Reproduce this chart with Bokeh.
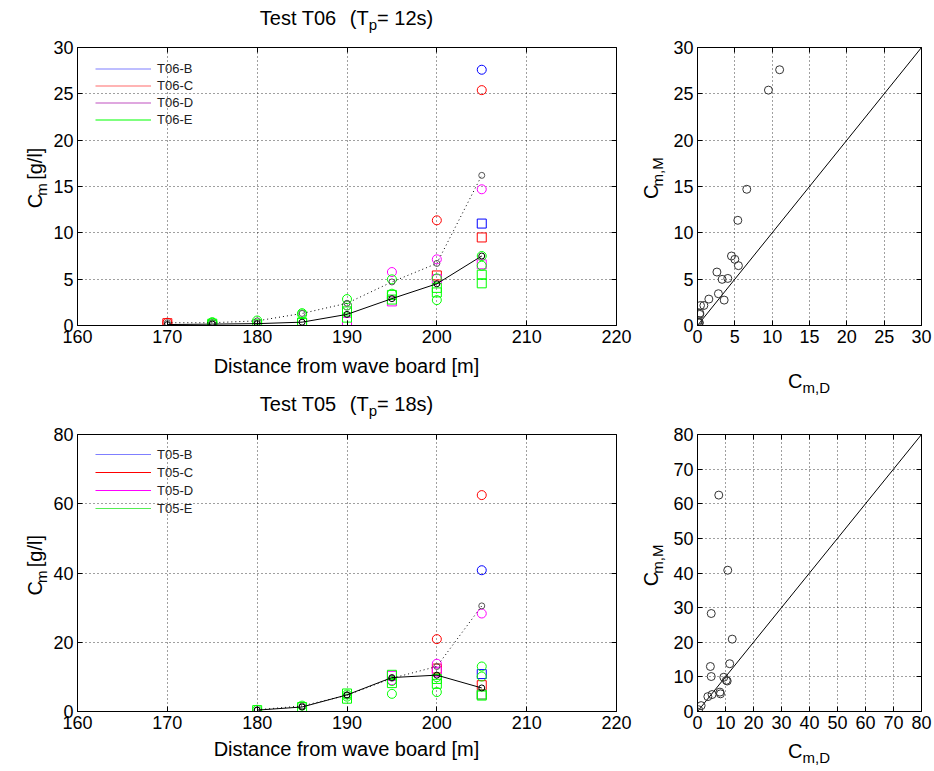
import numpy as np
from bokeh.plotting import figure
from bokeh.layouts import column, row
from bokeh.models import Label, Legend, LegendItem, FixedTicker, LinearAxis, Range1d
from bokeh.embed import file_html
from bokeh.resources import INLINE

FONT = "Liberation Sans"

# ---------------- data: Test T06 ----------------
t06_dist = [170, 175, 180, 185, 190, 195, 200, 205]
t06_mean_M = [0.3, 0.3, 0.5, 1.3, 2.4, 4.7, 6.7, 16.2]
t06_mean_D = [0.1, 0.15, 0.2, 0.36, 1.2, 2.9, 4.5, 7.5]

t06_B_dist = [205]
t06_B_D = [11.0]
t06_B_M = [27.6]
t06_C_dist = [170, 200, 205]
t06_C_D = [0.25, 5.4, 9.5]
t06_C_M = [0.3, 11.35, 25.4]
t06_D_dist = [190, 195, 200, 205]
t06_D_D = [0.4, 2.6, 5.0, 6.6]
t06_D_M = [2.16, 5.77, 7.14, 14.7]
t06_E_dist = [175, 175, 180, 185, 185, 190, 190, 195, 195, 200, 200, 205, 205]
t06_E_D = [0.2, 0.04, 0.13, 0.31, 0.3, 1.52, 0.85, 3.3, 2.8, 4.06, 3.57, 5.48, 4.55]
t06_E_M = [0.3, 0.36, 0.54, 1.33, 1.2, 2.85, 2.16, 4.98, 3.43, 5.08, 2.74, 6.46, 7.5]

# ---------------- data: Test T05 ----------------
t05_dist = [180, 185, 190, 195, 200, 205]
t05_mean_M = [0.5, 1.6, 4.7, 9.6, 13.0, 30.5]
t05_mean_D = [0.4, 1.3, 4.8, 9.8, 10.5, 6.8]

t05_B_dist = [205]
t05_B_D = [10.8]
t05_B_M = [40.8]
t05_C_dist = [200, 205]
t05_C_D = [12.4, 7.6]
t05_C_M = [20.9, 62.5]
t05_D_dist = [195, 200, 205]
t05_D_D = [10.3, 11.5, 4.9]
t05_D_M = [9.0, 13.8, 28.3]
t05_E_dist = [180, 185, 190, 190, 195, 195, 200, 200, 205, 205]
t05_E_D = [0.4, 1.3, 3.7, 5.2, 10.6, 8.2, 9.4, 8.0, 4.6, 4.9]
t05_E_M = [0.5, 1.7, 4.3, 4.9, 8.8, 5.1, 9.9, 5.6, 13.0, 10.1]

series_names = ["B", "C", "D", "E"]
series_colors = ["#0000ff", "#ff0000", "#ff00ff", "#00ff00"]
legend_colors_t06 = ["#7f7fff", "#ff6a6a", "#c050c0", "#00ff00"]
legend_colors_t05 = ["#7f7fff", "#ff0000", "#ff00ff", "#55ee55"]

dist_ticks = [160, 170, 180, 190, 200, 210, 220]
t06_y_ticks = [0, 5, 10, 15, 20, 25, 30]
t05_y_ticks = [0, 20, 40, 60, 80]
t06_sc_ticks = [0, 5, 10, 15, 20, 25, 30]
t05_sc_ticks = [0, 10, 20, 30, 40, 50, 60, 70, 80]
t06_diag = [0, 30]
t05_diag = [0, 80]

# ---------------- helpers ----------------
AW = {' ': 278, '(': 333, ')': 333, '=': 584, 'T': 611, 'e': 556, 's': 500, 't': 278,
      'C': 722, 'm': 833, ',': 278, 'M': 833, 'D': 722, 'p': 556, '[': 278, ']': 278,
      'g': 556, '/': 278, 'l': 222, 'i': 222, 'a': 556, 'n': 556, 'c': 500, 'f': 278,
      'r': 333, 'o': 556, 'w': 722, 'v': 500, 'b': 556, 'd': 556}
FS = 20      # main label size
SUB = 15     # subscript size
SUBOFF = 7   # subscript shift (downwards in text frame)


def tw(s, size):
    return sum(AW.get(c, 556) for c in s) * size / 1000.0


def text_fig(w, h):
    f = figure(width=w, height=h, x_range=Range1d(0, w), y_range=Range1d(h, 0),
               x_axis_type=None, y_axis_type=None, min_border=0,
               output_backend="svg", toolbar_location=None, tools="")
    f.outline_line_color = None
    f.background_fill_color = "white"
    f.border_fill_color = "white"
    return f


def lab(f, x, y, text, size, angle=0.0):
    f.add_layout(Label(x=x, y=y, text=text, text_font=FONT, text_font_size=f"{size}px",
                       text_color="black", text_align="left", text_baseline="middle",
                       angle=angle))


def sub_text(f, x, y, pieces):
    # pieces: list of (text, is_sub, extra_gap)
    for text, is_sub, gap in pieces:
        size = SUB if is_sub else FS
        lab(f, x, y + (SUBOFF if is_sub else 0), text, size)
        x += tw(text, size) + gap


def sub_text_v(f, x, ycenter, main, sub, rest=""):
    total = tw(main, FS) + tw(sub, SUB) + (tw(" " + rest, FS) if rest else 0)
    y0 = ycenter + total / 2.0
    ang = np.pi / 2
    lab(f, x, y0, main, FS, ang)
    lab(f, x + SUBOFF, y0 - tw(main, FS), sub, SUB, ang)
    if rest:
        lab(f, x, y0 - tw(main, FS) - tw(sub, SUB) - tw(" ", FS), rest, FS, ang)


def make_fig(xr, yr, xt, yt, w, h, bl, br, bt, bb):
    p = figure(x_range=xr, y_range=yr, width=w, height=h,
               min_border_left=bl, min_border_right=br, min_border_top=bt, min_border_bottom=bb,
               output_backend="svg", toolbar_location=None, tools="")
    p.xaxis.ticker = FixedTicker(ticks=xt)
    p.yaxis.ticker = FixedTicker(ticks=yt)
    for ax in (p.xaxis[0], p.yaxis[0]):
        ax.major_tick_in = 5
        ax.major_tick_out = 0
        ax.minor_tick_line_color = None
        ax.axis_line_color = "black"
        ax.major_tick_line_color = "black"
        ax.major_label_text_font = FONT
        ax.major_label_text_font_size = "18px"
        ax.major_label_text_color = "black"
        ax.major_label_standoff = 4
    for loc, tk in (("right", yt), ("above", xt)):
        ax = LinearAxis(ticker=FixedTicker(ticks=tk), major_tick_in=5, major_tick_out=0,
                        minor_tick_line_color=None, major_label_text_font_size="1px",
                        major_label_text_color=None, major_label_text_alpha=0,
                        axis_line_color=None, major_label_standoff=0)
        p.add_layout(ax, loc)
    p.xgrid.ticker = FixedTicker(ticks=xt)
    p.ygrid.ticker = FixedTicker(ticks=yt)
    p.grid.grid_line_color = "black"
    p.grid.grid_line_dash = "1 3"
    p.grid.grid_line_alpha = 0.75
    p.outline_line_color = "black"
    p.outline_line_alpha = 1.0
    p.background_fill_color = "white"
    p.border_fill_color = "white"
    return p


def dist_panel(dist, mean_M, mean_D, series, ymax, yt, leg_prefix, h, bt, bb, leg_loc, leg_gh, leg_colors):
    p = make_fig((160, 220), (0, ymax), dist_ticks, yt, 586, h, 26, 20, bt, bb)
    items = []
    for name, col, lcol, (sd, sD, sM) in zip(series_names, series_colors, leg_colors, series):
        p.scatter(sd, sD, marker="square", size=9, fill_color=None, line_color=col, line_width=1)
        p.scatter(sd, sM, marker="circle", size=9, fill_color=None, line_color=col, line_width=1)
        r = p.line([sd[0]], [np.nan], line_color=lcol, line_width=1.2)
        items.append(LegendItem(label=f"{leg_prefix}-{name}", renderers=[r]))
    p.line(dist, mean_M, line_color="black", line_dash="1 3", line_width=1)
    p.scatter(dist, mean_M, marker="circle", size=6, fill_color=None, line_color="#555555", line_width=1)
    p.line(dist, mean_D, line_color="black", line_width=1)
    p.scatter(dist, mean_D, marker="circle", size=6, fill_color=None, line_color="black", line_width=1)
    leg = Legend(items=items, location=leg_loc, margin=0, padding=0, spacing=0,
                 glyph_width=56, glyph_height=leg_gh, label_height=leg_gh, label_standoff=6,
                 label_text_font=FONT, label_text_font_size="13px", label_text_color="#222222",
                 border_line_color=None, background_fill_alpha=0)
    p.add_layout(leg, "center")
    return p


def scatter_panel(series, lim, ticks, diag, h, bt, bb):
    p = make_fig((0, lim), (0, lim), ticks, ticks, 264, h, 26, 13, bt, bb)
    p.line(diag, diag, line_color="black", line_width=1)
    for (sd, sD, sM) in series:
        p.scatter(sD, sM, marker="circle", size=8, fill_color=None, line_color="#333333", line_width=1)
    return p


t06_series = [(t06_B_dist, t06_B_D, t06_B_M), (t06_C_dist, t06_C_D, t06_C_M),
              (t06_D_dist, t06_D_D, t06_D_M), (t06_E_dist, t06_E_D, t06_E_M)]
t05_series = [(t05_B_dist, t05_B_D, t05_B_M), (t05_C_dist, t05_C_D, t05_C_M),
              (t05_D_dist, t05_D_D, t05_D_M), (t05_E_dist, t05_E_D, t05_E_M)]

XL = "Distance from wave board [m]"
CX = 346          # centre of the distance panels' frames
CX2 = 808.5       # centre of the scatter panels' frames


def title_pieces(run, tp):
    return [(f"Test {run}", False, tw("  ", FS)), ("(T", False, 0), ("p", True, 0), (f"= {tp})", False, 0)]


def pieces_width(pcs):
    return sum(tw(t, SUB if s else FS) + g for t, s, g in pcs)


CM_D = [("C", False, 0), ("m,D", True, 0)]

# --- title row (page y 0..35)
f_t1 = text_fig(934, 35)
tp1 = title_pieces("T06", "12s")
sub_text(f_t1, CX - pieces_width(tp1) / 2.0, 17, tp1)

# --- top plots row (page y 35..352)
H1 = 317
a1 = text_fig(50, H1)
sub_text_v(a1, 34, 151, "C", "m", "[g/l]")
p1 = dist_panel(t06_dist, t06_mean_M, t06_mean_D, t06_series, 30, t06_y_ticks, "T06",
                H1, 12, 27, (18, 197), 17, legend_colors_t06)
b1 = text_fig(34, H1)
sub_text_v(b1, 14, 151, "C", "m,M")
p2 = scatter_panel(t06_series, 30, t06_sc_ticks, t06_diag, H1, 12, 27)

# --- middle text row (page y 352..420)
f_mid = text_fig(934, 68)
lab(f_mid, CX - tw(XL, FS) / 2.0, 13, XL, FS)
sub_text(f_mid, CX2 - pieces_width(CM_D) / 2.0, 28, CM_D)
tp2 = title_pieces("T05", "18s")
sub_text(f_mid, CX - pieces_width(tp2) / 2.0, 51, tp2)

# --- bottom plots row (page y 420..738)
H2 = 318
a2 = text_fig(50, H2)
sub_text_v(a2, 34, 152.5, "C", "m", "[g/l]")
p3 = dist_panel(t05_dist, t05_mean_M, t05_mean_D, t05_series, 80, t05_y_ticks, "T05",
                H2, 14, 27, (18, 194), 18, legend_colors_t05)
b2 = text_fig(34, H2)
sub_text_v(b2, 14, 152.5, "C", "m,M")
p4 = scatter_panel(t05_series, 80, t05_sc_ticks, t05_diag, H2, 14, 27)

# --- bottom text row (page y 738..771)
f_bot = text_fig(934, 33)
lab(f_bot, CX - tw(XL, FS) / 2.0, 10, XL, FS)
sub_text(f_bot, CX2 - pieces_width(CM_D) / 2.0, 12, CM_D)

layout = column(f_t1,
                row(a1, p1, b1, p2, spacing=0),
                f_mid,
                row(a2, p3, b2, p4, spacing=0),
                f_bot, spacing=0)
open("out.html", "w").write(file_html(layout, INLINE))
